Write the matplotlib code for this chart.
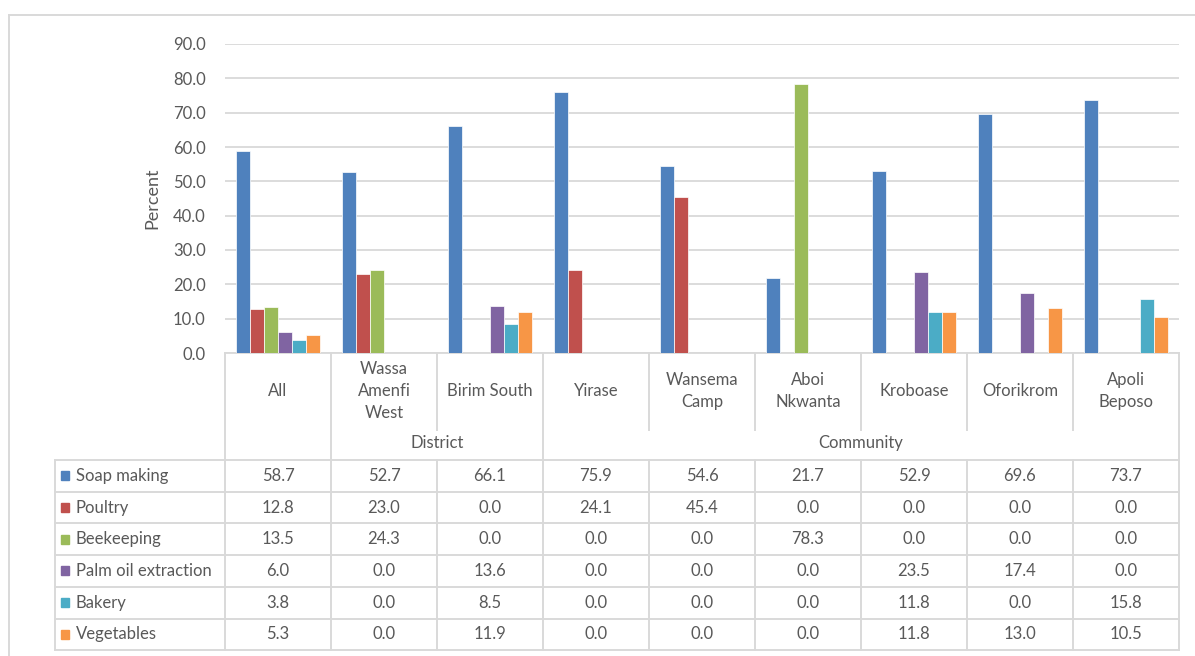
import matplotlib
matplotlib.use("Agg")
import matplotlib.pyplot as plt
from matplotlib.lines import Line2D
from matplotlib.patches import Rectangle
from matplotlib.transforms import blended_transform_factory

plt.rcParams['font.family'] = ['Lato', 'DejaVu Sans']

# categories along the x axis and the groups they belong to
categories = ["All", "Wassa\nAmenfi\nWest", "Birim South", "Yirase", "Wansema\nCamp",
              "Aboi\nNkwanta", "Kroboase", "Oforikrom", "Apoli\nBeposo"]
groups = [("District", 1, 2), ("Community", 3, 8)]

series_names = ["Soap making", "Poultry", "Beekeeping", "Palm oil extraction", "Bakery", "Vegetables"]
soap_making = [58.7, 52.7, 66.1, 75.9, 54.6, 21.7, 52.9, 69.6, 73.7]
poultry = [12.8, 23.0, 0.0, 24.1, 45.4, 0.0, 0.0, 0.0, 0.0]
beekeeping = [13.5, 24.3, 0.0, 0.0, 0.0, 78.3, 0.0, 0.0, 0.0]
palm_oil = [6.0, 0.0, 13.6, 0.0, 0.0, 0.0, 23.5, 17.4, 0.0]
bakery = [3.8, 0.0, 8.5, 0.0, 0.0, 0.0, 11.8, 0.0, 15.8]
vegetables = [5.3, 0.0, 11.9, 0.0, 0.0, 0.0, 11.8, 13.0, 10.5]
series = [soap_making, poultry, beekeeping, palm_oil, bakery, vegetables]
colors = ["#4F81BD", "#C0504D", "#9BBB59", "#8064A2", "#4BACC6", "#F79646"]

txt = "#595959"
grid = "#D9D9D9"
fs = 12
W, H = 1195, 656

fig = plt.figure(figsize=(W / 100, H / 100), dpi=100)
# plot area in pixels: left 225, right 1179, top 44, bottom 353
ax = fig.add_axes([225 / W, 1 - 353 / H, (1179 - 225) / W, (353 - 44) / H])

n = len(categories)
bw = 1 / 7.5
for j, (name, vals) in enumerate(zip(series_names, series)):
    xs = [i + (j - 2.5) * bw for i in range(n)]
    ax.bar(xs, vals, width=bw, color=colors[j], edgecolor="white", linewidth=0.5, zorder=3)

ax.set_xlim(-0.5, n - 0.5)
ax.set_ylim(0, 90)
ax.set_yticks(range(0, 91, 10))
ax.set_yticklabels(["%.1f" % v for v in range(0, 91, 10)], color=txt, fontsize=fs)
ax.tick_params(axis="y", length=0, pad=14)
ax.set_xticks([])
ax.grid(axis="y", color=grid, linewidth=1.3, zorder=0)
for s in ["top", "right", "left"]:
    ax.spines[s].set_visible(False)
ax.spines["bottom"].set_color(grid)
ax.spines["bottom"].set_linewidth(1.3)
ax.set_ylabel("Percent", color=txt, fontsize=13, labelpad=9)

# table under the plot: x in data units, y in axes fraction
tr = blended_transform_factory(ax.transData, ax.transAxes)


def ya(py):
    return (353 - py) / (353 - 44)


def line(x0, x1, y0, y1):
    ax.add_line(Line2D([x0, x1], [ya(y0), ya(y1)], transform=tr, color=grid,
                       linewidth=1.4, clip_on=False))


row_top = 460
row_h = 31.7
leg_left = -0.5 - (225 - 54.5) / 106

# vertical lines of category header
full = {0, 1, 3, n}
for i in range(n + 1):
    x = i - 0.5
    line(x, x, 353, 460 if i in full else 430)
    line(x, x, row_top, row_top + 6 * row_h)
line(leg_left, leg_left, row_top, row_top + 6 * row_h)
for r in range(7):
    y = row_top + r * row_h
    line(leg_left, n - 0.5, y, y)

for i, c in enumerate(categories):
    ax.text(i, ya(391), c, transform=tr, ha="center", va="center", color=txt,
            fontsize=fs, linespacing=1.45)
for g, a, b in groups:
    ax.text((a + b) / 2, ya(443), g, transform=tr, ha="center", va="center",
            color=txt, fontsize=fs)

for r, (name, vals) in enumerate(zip(series_names, series)):
    yc = row_top + (r + 0.5) * row_h
    ax.add_patch(Rectangle((leg_left + 6.5 / 106, ya(yc + 4.5)), 8 / 106, 9 / 309,
                           transform=tr, color=colors[r], clip_on=False))
    ax.text(leg_left + 21 / 106, ya(yc), name, transform=tr, ha="left", va="center",
            color=txt, fontsize=fs)
    for i, v in enumerate(vals):
        ax.text(i, ya(yc), "%.1f" % v, transform=tr, ha="center", va="center",
                color=txt, fontsize=fs)

# chart frame
fig.add_artist(Line2D([8.5 / W, 1], [1 - 14.5 / H, 1 - 14.5 / H], transform=fig.transFigure,
                      color=grid, linewidth=1.4))
fig.add_artist(Line2D([8.5 / W, 8.5 / W], [1 - 14.5 / H, 0], transform=fig.transFigure,
                      color=grid, linewidth=1.4))

fig.savefig("out.png", dpi=100, facecolor="white")
